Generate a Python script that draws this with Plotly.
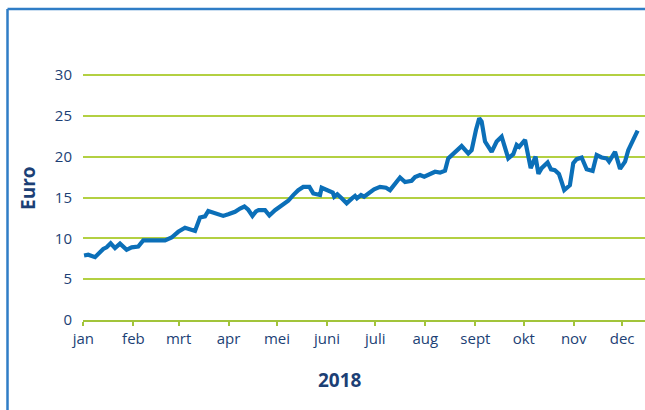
import plotly.graph_objects as go

# Day of year 2018 (0 = 1 Jan) and price in euro
days = [0.4, 3.0, 7.2, 12.3, 14.4, 16.9, 19.6, 22.7, 26.8, 29.9, 34.0, 36.1, 37.1,
        47.5, 50.6, 54.7, 58.8, 63.0, 66.1, 69.2, 72.3, 75.4, 77.4, 79.5, 86.7,
        89.8, 94.0, 97.1, 99.8, 102.2, 104.8, 107.0, 108.6, 112.6, 115.3, 118.8,
        121.9, 125.0, 127.0, 130.1, 133.2, 136.3, 140.1, 142.5, 146.7, 147.7,
        151.8, 154.6, 155.5, 157.4, 160.1, 163.2, 166.5, 168.4, 169.6, 172.1,
        174.0, 176.4, 180.2, 183.9, 187.6, 190.1, 193.2, 196.3, 199.4, 203.5,
        205.6, 208.7, 211.3, 213.8, 218.0, 221.1, 224.2, 226.2, 230.4, 234.5,
        238.6, 240.7, 243.4, 245.4, 246.9, 249.0, 253.1, 256.2, 259.3, 263.4,
        266.5, 268.6, 270.2, 273.8, 277.3, 280.3, 282.1, 284.1, 287.8, 289.9,
        292.3, 294.8, 296.5, 298.1, 301.6, 303.7, 305.8, 308.9, 312.0, 315.7,
        318.2, 321.3, 324.4, 325.9, 329.6, 332.7, 335.8, 337.8, 340.7, 343.6]
price = [7.9, 8.0, 7.7, 8.7, 8.9, 9.4, 8.8, 9.35, 8.6, 8.9, 9.0, 9.55, 9.75,
         9.75, 9.75, 10.1, 10.8, 11.3, 11.1, 10.9, 12.55, 12.7, 13.35, 13.2, 12.75,
         12.95, 13.25, 13.65, 13.9, 13.5, 12.75, 13.3, 13.45, 13.45, 12.8, 13.45,
         13.85, 14.2, 14.6, 15.3, 15.9, 16.3, 16.3, 15.5, 15.3, 16.2,
         15.9, 15.6, 15.1, 15.4, 14.9, 14.3, 14.9, 15.2, 14.9, 15.3,
         15.1, 15.5, 16.0, 16.3, 16.2, 15.9, 16.7, 17.45, 16.9, 17.05,
         17.5, 17.75, 17.55, 17.75, 18.15, 18.05, 18.3, 19.8, 20.6, 21.3,
         20.4, 20.8, 23.3, 24.7, 24.3, 21.85, 20.6, 21.85, 22.45, 19.8,
         20.3, 21.45, 21.2, 22.05, 18.6, 20.0, 17.9, 18.6, 19.3, 18.45,
         18.35, 17.9, 16.9, 15.9, 16.5, 19.2, 19.7, 19.9, 18.45, 18.25,
         20.2, 19.9, 19.8, 19.4, 20.6, 18.5, 19.4, 20.8, 22.0, 23.2]

month_days = [0, 31, 59, 90, 120, 151, 181, 212, 243, 273, 304, 334]
month_labels = ["jan", "feb", "mrt", "apr", "mei", "juni", "juli", "aug",
                "sept", "okt", "nov", "dec"]
y_ticks = [0, 5, 10, 15, 20, 25, 30]

TEXT = "#1c3f75"
GRID = "#b3d042"
AXIS = "#a2c43a"
LINE = "#0b6fb8"
FRAME = "#2f7dc6"

W, H = 645, 410
L, R, T, B = 83, 0, 73, 90
pw, ph = W - L - R, H - T - B
px_per_day = 1.613

def px_x(p):
    return (p - L) / pw

def px_y(p):
    return (H - B - p) / ph

fig = go.Figure()
fig.add_trace(go.Scatter(x=days, y=price, mode="lines",
                         line=dict(color=LINE, width=4.2), hoverinfo="skip"))

fig.update_layout(
    width=W, height=H,
    margin=dict(l=L, r=R, t=T, b=B),
    paper_bgcolor="white", plot_bgcolor="white",
    showlegend=False,
    dragmode=False,
    font=dict(family="Open Sans", size=15, color=TEXT),
    xaxis=dict(
        range=[-0.25, pw / px_per_day - 0.25],
        tickmode="array", tickvals=month_days, ticktext=month_labels,
        showgrid=False, zeroline=False,
        showline=True, linecolor=AXIS, linewidth=2,
        ticks="outside", ticklen=4, tickwidth=1.5, tickcolor=AXIS,
        tickfont=dict(size=15, color=TEXT),
        fixedrange=True,
    ),
    yaxis=dict(
        range=[0, 30.25],
        tickmode="array", tickvals=y_ticks,
        showgrid=True, gridcolor=GRID, gridwidth=1.5,
        zeroline=False, showline=False,
        ticks="", ticklabelstandoff=10,
        tickfont=dict(size=15, color=TEXT),
        fixedrange=True,
    ),
    annotations=[
        dict(text="<b>Euro</b>", x=px_x(28), y=px_y(188), xref="paper", yref="paper",
             showarrow=False, textangle=-90, font=dict(size=19, color=TEXT),
             xanchor="center", yanchor="middle"),
        dict(text="<b>2018</b>", x=px_x(340), y=px_y(380), xref="paper", yref="paper",
             showarrow=False, font=dict(size=19, color=TEXT),
             xanchor="center", yanchor="middle"),
    ],
    shapes=[
        dict(type="line", xref="paper", yref="paper",
             x0=px_x(7.5), x1=px_x(W), y0=px_y(9), y1=px_y(9),
             line=dict(color=FRAME, width=2.5)),
        dict(type="line", xref="paper", yref="paper",
             x0=px_x(7.5), x1=px_x(7.5), y0=px_y(9), y1=px_y(H),
             line=dict(color=FRAME, width=2.5)),
    ],
)

fig.write_html("out.html", config={"displayModeBar": False})
